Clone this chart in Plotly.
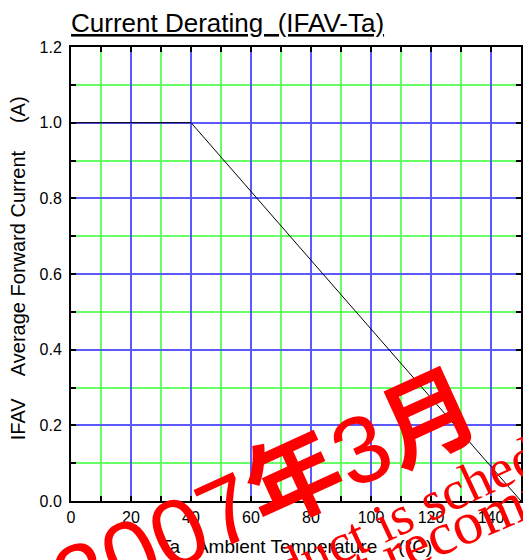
import plotly.graph_objects as go

# ---- data ----
ta_points = [0, 40, 150]          # ambient temperature (°C)
ifav_points = [1.0, 1.0, 0.0]     # average forward current (A)

x_range = [0, 150]
y_range = [0, 1.2]
x_major, x_minor = 20, 10
y_major, y_minor = 0.2, 0.1

title_text = "Current Derating\u00a0\u00a0(IFAV-Ta)"
x_title = "Ta\u00a0\u00a0\u00a0Ambient Temperature\u00a0\u00a0\u00a0\u00a0(°C)"
y_title = "IFAV\u00a0\u00a0\u00a0\u00a0Average Forward Current\u00a0\u00a0\u00a0\u00a0\u00a0(A)"
wm_digits = "2007"
wm_year = "年"
wm_month_digit = "3"
wm_month = "月"
wm_line1 = "This product is scheduled to be discontinued."
wm_line2 = "Not recommended for new designs."

# figure fills the whole 523x560 page (body margin removed below)
W, H = 523, 560
PL, PR, PT, PB = 71, 523, 47, 501   # plot area in page pixels
ML, MT, MR, MB = PL, PT, W - PR, H - PB
PW, PH = PR - PL, PB - PT


def px(xs):
    return (xs - PL) / PW


def py(ys):
    return (PB - ys) / PH


SANS = "Arial, Liberation Sans, sans-serif"
SERIF = "Times New Roman, Liberation Serif, serif"
CJK = "Arial, Liberation Sans, Noto Sans CJK JP, sans-serif"

MAJOR_GRID = "#5a5aff"
MINOR_GRID = "#66ff66"

fig = go.Figure()
fig.add_trace(go.Scatter(x=ta_points, y=ifav_points, mode="lines",
                         line=dict(color="black", width=1), showlegend=False,
                         hoverinfo="skip"))

axis_common = dict(
    showgrid=True, gridcolor=MAJOR_GRID, gridwidth=2, zeroline=False,
    showline=True, linecolor="black", linewidth=2, mirror="ticks",
    ticks="inside", ticklen=5, tickwidth=2, tickcolor="black",
    tickfont=dict(family=SANS, size=16, color="black"),
)
minor_common = dict(showgrid=True, gridcolor=MINOR_GRID, gridwidth=2,
                    ticks="inside", ticklen=5, tickwidth=2, tickcolor="black")

fig.update_xaxes(range=x_range, tick0=0, dtick=x_major, ticklabelstandoff=1,
                 minor=dict(tick0=0, dtick=x_minor, **minor_common),
                 **axis_common)
fig.update_yaxes(range=y_range, tick0=0, dtick=y_major, tickformat=".1f",
                 ticklabelstandoff=4,
                 minor=dict(tick0=0, dtick=y_minor, **minor_common),
                 **axis_common)

wm_text = (wm_digits + "<b>" + wm_year + "</b>" + wm_month_digit
           + "<b>" + wm_month + "</b>")

annotations = [
    dict(text="<u>" + title_text + "</u>", x=px(69), y=py(40), xref="paper", yref="paper",
         xanchor="left", yanchor="bottom", showarrow=False,
         font=dict(family=SANS, size=26, color="black")),
    dict(text=x_title, x=px(297), y=py(546), xref="paper", yref="paper",
         xanchor="center", yanchor="middle", showarrow=False,
         font=dict(family=SANS, size=19, color="black")),
    dict(text=y_title, x=px(18), y=py(268), xref="paper", yref="paper",
         xanchor="center", yanchor="middle", showarrow=False, textangle=-90,
         font=dict(family=SANS, size=20, color="black")),
    # red watermark
    dict(text=wm_text, x=px(266), y=py(493), xref="paper", yref="paper",
         xanchor="center", yanchor="middle", showarrow=False, textangle=-24.5,
         font=dict(family=CJK, size=95, color="#ff0000")),
    dict(text=wm_line1, x=px(563), y=py(440), xref="paper", yref="paper",
         xanchor="center", yanchor="middle", showarrow=False, textangle=-25,
         font=dict(family=SERIF, size=55, color="#ff0000")),
    dict(text=wm_line2, x=px(684), y=py(432), xref="paper", yref="paper",
         xanchor="center", yanchor="middle", showarrow=False, textangle=-23,
         font=dict(family=SERIF, size=60, color="#ff0000")),
]

fig.update_layout(
    width=W, height=H,
    margin=dict(l=ML, r=MR, t=MT, b=MB, pad=0),
    paper_bgcolor="white", plot_bgcolor="white",
    showlegend=False,
    annotations=annotations,
)

fig.write_html("out.html",
               config={"displayModeBar": False},
               post_script="document.body.style.margin='0px';"
                           "document.body.style.overflow='hidden';")
